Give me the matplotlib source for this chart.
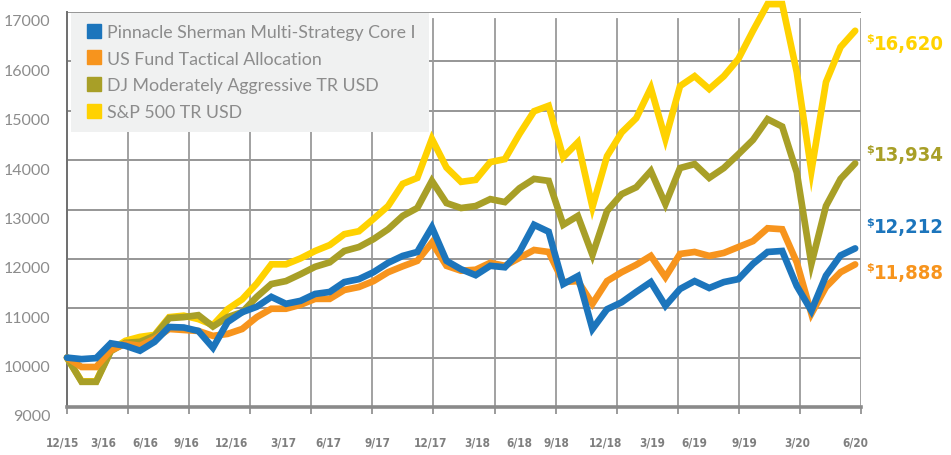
import matplotlib
matplotlib.use("Agg")
import matplotlib.pyplot as plt
import matplotlib.transforms as mtransforms
from matplotlib.lines import Line2D
from matplotlib.patches import Rectangle
import numpy as np

# monthly growth of $10,000, 12/15 .. 6/20
series_names = ["Pinnacle Sherman Multi-Strategy Core I", "US Fund Tactical Allocation",
                "DJ Moderately Aggressive TR USD", "S&P 500 TR USD"]
pinnacle = [10000, 9970, 9990, 10290, 10240, 10140, 10320, 10620, 10610, 10540,
            10200, 10720, 10920, 11030, 11230, 11090, 11150, 11290, 11330, 11530,
            11590, 11730, 11920, 12060, 12140, 12640, 11960, 11790, 11670, 11860,
            11830, 12140, 12690, 12550, 11490, 11650, 10580, 10980, 11120, 11330,
            11530, 11050, 11390, 11550, 11410, 11530, 11590, 11900, 12140, 12160,
            11450, 10950, 11660, 12070, 12212]
tactical = [10000, 9810, 9810, 10150, 10280, 10240, 10380, 10580, 10560, 10540,
            10440, 10480, 10580, 10820, 10990, 10990, 11070, 11190, 11190, 11370,
            11430, 11550, 11730, 11850, 11960, 12330, 11860, 11760, 11780, 11920,
            11860, 12020, 12180, 12140, 11530, 11550, 11090, 11550, 11730, 11880,
            12060, 11630, 12100, 12140, 12060, 12120, 12240, 12360, 12620, 12600,
            11930, 10890, 11430, 11730, 11888]
dj_mod = [10000, 9510, 9510, 10130, 10300, 10320, 10440, 10800, 10820, 10860,
          10630, 10820, 10920, 11230, 11490, 11550, 11690, 11840, 11930, 12160,
          12240, 12400, 12600, 12870, 13030, 13580, 13130, 13030, 13070, 13210,
          13150, 13430, 13620, 13580, 12690, 12870, 12080, 12970, 13310, 13450,
          13780, 13110, 13840, 13920, 13640, 13840, 14120, 14410, 14830, 14680,
          13750, 11900, 13070, 13620, 13934]
sp500 = [10000, 9520, 9520, 10150, 10340, 10420, 10460, 10820, 10850, 10780,
         10660, 10980, 11180, 11500, 11890, 11890, 12010, 12160, 12280, 12500,
         12560, 12810, 13070, 13520, 13640, 14430, 13850, 13560, 13600, 13960,
         14020, 14530, 14990, 15100, 14060, 14360, 13050, 14080, 14560, 14850,
         15460, 14430, 15500, 15700, 15440, 15700, 16050, 16620, 17160, 17160,
         15780, 13780, 15580, 16290, 16620]
x_labels = ["12/15", "3/16", "6/16", "9/16", "12/16", "3/17", "6/17", "9/17", "12/17",
            "3/18", "6/18", "9/18", "12/18", "3/19", "6/19", "9/19", "3/20", "6/20"]
y_ticks = [9000, 10000, 11000, 12000, 13000, 14000, 15000, 16000, 17000]

# layout (month index where each date label sits, y of end labels)
x_label_pos = [-0.3, 2.5, 5.4, 8.2, 11.3, 14.8, 17.9, 21.3, 24.9,
               28.1, 31.0, 33.5, 36.9, 40.1, 43.0, 46.4, 50.0, 54.0]
end_label_y = [12650, 11730, 14120, 16370]

colors = ["#1c75bc", "#f7941d", "#a89f27", "#ffd200"]
gray_txt = "#8c8c8c"
W, H = 951, 456

fig = plt.figure(figsize=(W / 100, H / 100), dpi=100)
ax = fig.add_axes([67 / W, 48 / H, (861 - 67) / W, 395 / H])
months = np.arange(len(pinnacle))
xmax = 54.4
ax.set_xlim(0, xmax)
ax.set_ylim(9000, 17000)

# grid
for v in y_ticks[1:]:
    ax.axhline(v, color="#8e8e8e", lw=1.3, zorder=1)
vgrid = np.linspace(0, xmax, 14)
for gx in vgrid[1:]:
    ax.axvline(gx, ymax=0.982, color="#9a9a9a", lw=1.3, zorder=1)

series = [pinnacle, tactical, dj_mod, sp500]
zorders = [6, 5, 4, 3]
for vals, c, z in zip(series, colors, zorders):
    ax.plot(months, vals, color=c, lw=4.8, solid_joinstyle="miter",
            solid_capstyle="round", zorder=z, clip_on=False)

for s in ["top", "right"]:
    ax.spines[s].set_visible(False)
ax.spines["left"].set_color("#6e6e6e")
ax.spines["left"].set_linewidth(1.4)
ax.spines["bottom"].set_color("#8a8a8a")
ax.spines["bottom"].set_linewidth(2.6)

ax.set_xticks(vgrid)
ax.set_xticklabels([])
ax.tick_params(axis="x", length=5, width=1.2, color="#8a8a8a", direction="out")
ax.set_yticks(y_ticks)
ax.set_yticklabels([str(v) for v in y_ticks], fontsize=11.5, color=gray_txt,
                   family="Lato")
ax.tick_params(axis="y", length=0, pad=12)
shift = mtransforms.ScaledTranslation(0, -8 / 100, fig.dpi_scale_trans)
for lab in ax.get_yticklabels():
    lab.set_transform(lab.get_transform() + shift)

# date labels
trans = mtransforms.blended_transform_factory(ax.transData, fig.transFigure)
for pos, lab in zip(x_label_pos, x_labels):
    ax.text(pos, 1 - 443 / H, lab, transform=trans, ha="center", va="center",
            fontsize=8.5, color="#7f7f7f", fontweight="bold", family="DejaVu Sans",
            fontstretch="condensed")

# end value labels
for vals, c, ly in zip(series, colors, end_label_y):
    ax.text(54.75, ly, "$", fontsize=8, color=c, fontweight="bold",
            ha="left", va="bottom", clip_on=False)
    ax.text(55.3, ly, f"{vals[-1]:,}", fontsize=14.5, color=c, fontweight="bold",
            ha="left", va="center", clip_on=False, fontstretch="condensed")

# legend on a light grey panel
ax.add_patch(Rectangle((71 / W, 1 - 133 / H), (429 - 71) / W, (133 - 14) / H,
                       transform=fig.transFigure, facecolor="#f0f1f1",
                       edgecolor="none", zorder=8, clip_on=False))
handles = [Line2D([], [], marker="s", ls="", color=c, markersize=9.4) for c in colors]
leg = ax.legend(handles, series_names, loc="upper left",
                bbox_to_anchor=(86.5 / W, 1 - 25 / H), bbox_transform=fig.transFigure,
                frameon=False, fontsize=12.75, handlelength=0.8, handletextpad=0.37,
                labelspacing=0.6, borderpad=0, borderaxespad=0)
for t in leg.get_texts():
    t.set_color(gray_txt)
    t.set_family("Lato")
leg.set_zorder(10)

fig.savefig("out.png", dpi=100)
